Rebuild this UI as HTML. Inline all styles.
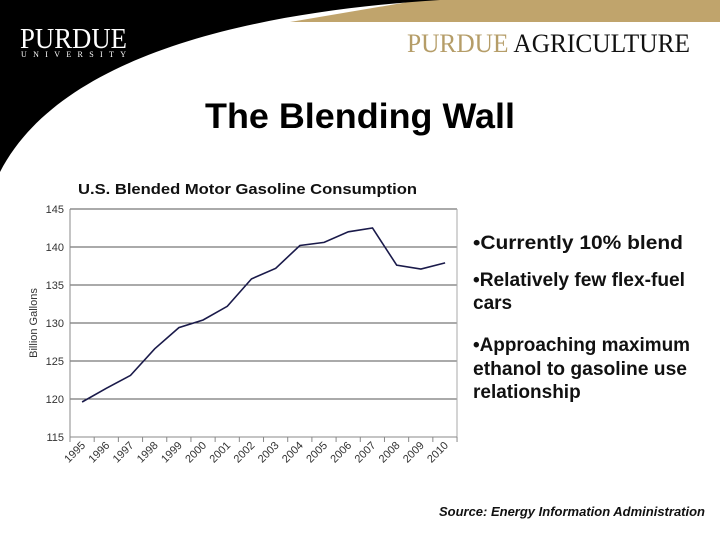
<!DOCTYPE html>
<html><head><style>body{margin:0;background:#fff}svg{display:block}</style></head>
<body>
<svg width="720" height="540" viewBox="0 0 720 540" xmlns="http://www.w3.org/2000/svg" font-family="Liberation Sans, sans-serif">
<rect width="720" height="540" fill="#fff"/>
<polygon points="290,22 720,22 720,0 420,0" fill="#c0a46c"/>
<path d="M0,0 L440,0 C250,12 60,55 0,172 Z" fill="#000"/>
<text x="20" y="48" font-family="Liberation Serif, serif" font-size="28" fill="#fff" textLength="107" lengthAdjust="spacingAndGlyphs">PURDUE</text>
<text x="21" y="57" font-family="Liberation Serif, serif" font-size="8" fill="#fff" textLength="105" lengthAdjust="spacing">UNIVERSITY</text>
<text x="407" y="52" font-family="Liberation Serif, serif" font-size="26" textLength="283" lengthAdjust="spacingAndGlyphs"><tspan fill="#b59d68">PURDUE </tspan><tspan fill="#111">AGRICULTURE</tspan></text>
<text x="360" y="128" text-anchor="middle" font-weight="bold" font-size="35" textLength="310" lengthAdjust="spacingAndGlyphs">The Blending Wall</text>
<text x="78" y="194" font-weight="bold" font-size="15" fill="#111" textLength="339" lengthAdjust="spacingAndGlyphs">U.S. Blended Motor Gasoline Consumption</text>
<g stroke="#555" stroke-width="1">
<line x1="70" y1="209" x2="457" y2="209"/><line x1="70" y1="247" x2="457" y2="247"/><line x1="70" y1="285" x2="457" y2="285"/><line x1="70" y1="323" x2="457" y2="323"/><line x1="70" y1="361" x2="457" y2="361"/><line x1="70" y1="399" x2="457" y2="399"/>
<line x1="457" y1="209" x2="457" y2="437" stroke="#aaa"/>
<line x1="70" y1="209" x2="70" y2="437" stroke="#888"/>
<line x1="70" y1="437" x2="457" y2="437" stroke="#888"/>
</g>
<g font-size="11" fill="#333" text-anchor="end">
<text x="64" y="213">145</text><text x="64" y="251">140</text><text x="64" y="289">135</text><text x="64" y="327">130</text><text x="64" y="365">125</text><text x="64" y="403">120</text><text x="64" y="441">115</text>
</g>
<text transform="translate(37,323) rotate(-90)" text-anchor="middle" font-size="11" fill="#333">Billion Gallons</text>
<g stroke="#888" id="t"></g>
<g font-size="11" fill="#333" text-anchor="end" id="xl"></g>
<polyline fill="none" stroke="#1a1a4a" stroke-width="1.6" points="82.1,402 106.3,388.3 130.5,375.4 154.7,348.8 178.9,327.6 203.1,320 227.3,306.3 251.5,278.9 275.7,268.3 299.9,245.5 324.1,242.4 348.3,231.8 372.5,228 396.7,265.2 420.9,269 445.1,262.9"/>
<g font-weight="bold" font-size="19" fill="#111">
<text x="473" y="249" textLength="210" lengthAdjust="spacingAndGlyphs">•Currently 10% blend</text>
<text x="473" y="286" textLength="212" lengthAdjust="spacingAndGlyphs">•Relatively few flex-fuel</text>
<text x="473" y="309">cars</text>
<text x="473" y="351" textLength="217" lengthAdjust="spacingAndGlyphs">•Approaching maximum</text>
<text x="473" y="375" textLength="214" lengthAdjust="spacingAndGlyphs">ethanol to gasoline  use</text>
<text x="473" y="398">relationship</text>
</g>
<text x="705" y="516" text-anchor="end" font-weight="bold" font-style="italic" font-size="13" fill="#111">Source: Energy Information Administration</text>
<script>
var t=document.getElementById('t'),xl=document.getElementById('xl'),ns='http://www.w3.org/2000/svg';
for(var i=0;i<=16;i++){var x=70+i*24.19;var l=document.createElementNS(ns,'line');l.setAttribute('x1',x);l.setAttribute('x2',x);l.setAttribute('y1',437);l.setAttribute('y2',442);t.appendChild(l);}
for(var i=0;i<16;i++){var x=82+i*24.19;var s=document.createElementNS(ns,'text');s.setAttribute('transform','translate('+(x+4)+',446) rotate(-45)');s.textContent=1995+i;xl.appendChild(s);}
</script>
</svg>
</body></html>
